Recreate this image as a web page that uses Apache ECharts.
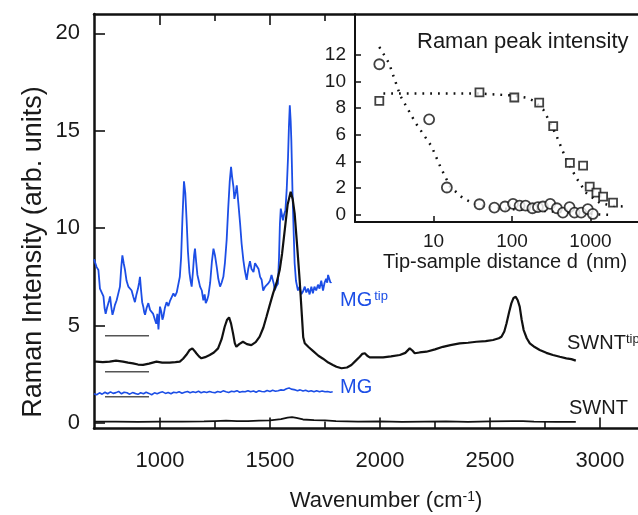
<!DOCTYPE html>
<html><head><meta charset="utf-8">
<script src="https://cdn.jsdelivr.net/npm/echarts@6/dist/echarts.min.js"></script>
<style>html,body{margin:0;padding:0;background:#fff}#c{width:638px;height:515px}</style>
</head><body><div id="c"></div>
<script>
// ---- main spectra: [wavenumber, intensity] ----
const mgTip = [[700,8.4],[705,8.45],[712,8.0],[720,7.85],[727,6.9],[735,6.8],[743,6.5],[748,5.9],[753,5.6],[759,5.9],[765,5.8],[769,6.3],[773,6.5],[778,6.0],[784,5.55],[790,5.8],[795,6.05],[803,6.3],[811,6.2],[818,7.0],[824,8.0],[829,8.6],[835,8.2],[841,7.85],[848,7.3],[856,7.0],[863,7.1],[871,6.8],[878,6.5],[886,6.2],[893,6.6],[900,6.9],[905,7.2],[909,7.5],[914,6.8],[919,6.2],[924,5.97],[928,5.7],[932,5.55],[939,5.9],[947,6.15],[955,5.8],[962,5.9],[969,5.6],[977,5.3],[983,5.1],[988,5.6],[993,4.8],[997,5.5],[1000,5.97],[1006,5.7],[1011,5.3],[1015,5.45],[1022,5.9],[1030,6.2],[1038,6.0],[1045,6.25],[1053,6.15],[1061,6.65],[1068,6.5],[1076,6.7],[1084,6.8],[1090,7.5],[1096,8.5],[1102,10.5],[1109,12.4],[1115,11.8],[1121,10.4],[1127,8.8],[1134,7.7],[1139,7.3],[1144,7.0],[1150,7.8],[1155,8.6],[1159,8.95],[1165,8.2],[1170,7.6],[1175,7.35],[1182,7.0],[1190,6.8],[1197,6.3],[1203,6.6],[1208,6.15],[1214,6.3],[1220,6.55],[1228,7.2],[1236,8.3],[1243,8.95],[1250,8.6],[1258,8.0],[1265,7.4],[1273,7.0],[1280,7.2],[1288,7.5],[1295,8.2],[1303,9.4],[1310,11.0],[1317,12.4],[1323,13.15],[1328,12.6],[1334,12.1],[1338,11.5],[1341,11.45],[1345,11.9],[1349,12.2],[1356,11.3],[1364,10.25],[1371,9.2],[1379,8.35],[1386,7.8],[1394,7.35],[1401,7.9],[1409,8.3],[1416,7.9],[1425,7.75],[1432,8.2],[1440,8.3],[1448,7.9],[1455,7.5],[1462,7.35],[1469,6.8],[1478,7.0],[1485,6.9],[1491,7.15],[1500,7.3],[1507,7.6],[1514,7.7],[1518,7.1],[1521,6.8],[1528,7.0],[1536,7.15],[1541,8.5],[1545,10.2],[1549,11.0],[1554,10.7],[1559,10.4],[1564,10.7],[1570,10.9],[1576,12.0],[1582,13.65],[1586,15.2],[1590,16.3],[1594,15.5],[1597,14.5],[1602,12.0],[1607,10.0],[1612,8.2],[1618,7.3],[1627,6.8],[1635,7.0],[1642,6.6],[1650,6.75],[1658,7.0],[1665,6.7],[1673,6.9],[1680,6.6],[1688,7.0],[1695,6.65],[1702,7.0],[1710,6.8],[1718,7.1],[1725,6.9],[1733,7.3],[1741,6.8],[1748,7.2],[1755,7.4],[1760,7.2],[1764,7.6],[1770,7.5],[1775,7.2],[1779,7.25]];
const swntTip = [[700,3.15],[711,3.15],[740,3.12],[771,3.15],[800,3.2],[832,3.15],[855,3.1],[877,3.06],[900,3.0],[923,2.98],[950,3.05],[984,3.15],[1010,3.1],[1044,3.1],[1070,3.12],[1090,3.15],[1105,3.3],[1120,3.5],[1135,3.75],[1147,3.83],[1157,3.7],[1165,3.58],[1177,3.42],[1188,3.32],[1205,3.38],[1226,3.49],[1245,3.62],[1264,3.83],[1280,4.3],[1294,4.94],[1305,5.3],[1314,5.42],[1323,5.1],[1332,4.6],[1340,4.1],[1347,3.91],[1360,4.05],[1377,4.17],[1395,4.05],[1415,4.0],[1435,4.15],[1453,4.43],[1470,4.9],[1484,5.45],[1500,6.1],[1514,6.65],[1530,7.2],[1544,7.85],[1555,8.7],[1567,9.9],[1580,11.2],[1594,11.87],[1603,11.5],[1612,10.76],[1624,9.0],[1635,7.3],[1645,5.5],[1651,4.4],[1658,4.09],[1675,3.9],[1695,3.7],[1720,3.45],[1741,3.3],[1765,3.1],[1786,2.98],[1802,2.89],[1825,2.81],[1850,2.85],[1870,2.98],[1890,3.2],[1908,3.4],[1920,3.55],[1931,3.58],[1942,3.45],[1953,3.37],[1980,3.37],[2014,3.37],[2050,3.42],[2090,3.49],[2115,3.6],[2135,3.83],[2147,3.72],[2158,3.58],[2180,3.62],[2211,3.66],[2250,3.78],[2286,3.91],[2320,4.0],[2362,4.09],[2400,4.12],[2438,4.17],[2480,4.2],[2514,4.26],[2540,4.35],[2552,4.43],[2565,4.7],[2575,5.11],[2587,5.7],[2597,6.14],[2607,6.42],[2617,6.48],[2626,6.3],[2635,5.97],[2644,5.3],[2653,4.77],[2667,4.35],[2681,4.09],[2703,3.9],[2726,3.75],[2756,3.6],[2786,3.49],[2817,3.4],[2847,3.32],[2870,3.28],[2890,3.2]];
const mg = [[700,1.5],[712,1.45],[725,1.55],[737,1.48],[750,1.58],[762,1.5],[775,1.6],[787,1.52],[800,1.56],[812,1.62],[825,1.5],[837,1.58],[850,1.55],[862,1.48],[875,1.56],[887,1.52],[900,1.47],[912,1.55],[925,1.5],[937,1.58],[950,1.52],[962,1.45],[975,1.55],[987,1.5],[1000,1.56],[1012,1.6],[1025,1.52],[1037,1.57],[1050,1.5],[1062,1.58],[1075,1.55],[1087,1.6],[1100,1.53],[1112,1.58],[1125,1.62],[1137,1.55],[1150,1.6],[1162,1.57],[1175,1.63],[1187,1.55],[1200,1.6],[1212,1.56],[1225,1.62],[1237,1.58],[1250,1.55],[1262,1.62],[1275,1.58],[1287,1.65],[1300,1.6],[1312,1.57],[1325,1.63],[1337,1.6],[1350,1.66],[1362,1.58],[1375,1.62],[1387,1.6],[1400,1.66],[1412,1.6],[1425,1.64],[1437,1.58],[1450,1.66],[1462,1.62],[1475,1.6],[1487,1.67],[1500,1.62],[1512,1.68],[1525,1.63],[1537,1.66],[1550,1.7],[1562,1.68],[1575,1.76],[1587,1.8],[1597,1.74],[1606,1.78],[1615,1.7],[1625,1.66],[1637,1.7],[1650,1.64],[1662,1.68],[1675,1.62],[1687,1.66],[1700,1.6],[1712,1.65],[1725,1.6],[1737,1.64],[1750,1.6],[1762,1.62],[1775,1.58],[1785,1.6]];
const swnt = [[700,0.07],[800,0.07],[900,0.06],[1000,0.07],[1100,0.07],[1200,0.08],[1250,0.1],[1300,0.12],[1350,0.1],[1400,0.1],[1450,0.12],[1500,0.14],[1550,0.2],[1580,0.28],[1600,0.3],[1620,0.26],[1650,0.18],[1700,0.15],[1750,0.13],[1800,0.1],[1900,0.07],[2000,0.08],[2100,0.06],[2200,0.07],[2300,0.08],[2400,0.06],[2500,0.08],[2600,0.1],[2650,0.1],[2700,0.07],[2800,0.06],[2890,0.06]];
// zero-level markers of the offset spectra
const zeroLevels = [4.48, 2.63, 1.35];
const zeroSpan = [750, 950];
// axis ticks
const xMajor = [1000, 1500, 2000, 2500, 3000];
const xMinor = [1250, 1750, 2250, 2750];
const xTopMajor = [1000, 1500];
const xTopMinor = [1250, 1750];
const yTicks = [0, 5, 10, 15, 20];
// ---- inset: Raman peak intensity vs tip-sample distance ----
const circD = [2.04, 8.8, 14.8, 38.5, 59.6, 81.6, 103, 125, 149, 182, 214, 248, 307, 373, 445, 541, 626, 761, 924, 1071];
const circI = [11.3, 7.16, 2.03, 0.77, 0.52, 0.6, 0.8, 0.67, 0.67, 0.47, 0.55, 0.6, 0.8, 0.47, 0.14, 0.55, 0.14, 0.14, 0.4, 0.04];
const sqD = [2.04, 38.5, 107, 222, 335, 546, 805, 977, 1190, 1447, 1936];
const sqI = [8.55, 9.18, 8.8, 8.42, 6.65, 3.88, 3.67, 2.1, 1.65, 1.35, 0.9];
const circFitD = [2.04, 2.7, 3.8, 5.9, 9.5, 12.2, 16.3, 24, 35, 60, 100, 200, 400, 800, 1100, 1800];
const circFitI = [12.6, 11.4, 8.9, 6.9, 5.1, 3.6, 2.1, 1.2, 0.75, 0.5, 0.4, 0.3, 0.2, 0.08, 0.02, -0.02];
const sqFitD = [2.3, 10, 40, 100, 150, 190, 250, 300, 370, 470, 660, 890, 1330, 2000, 2750];
const sqFitI = [9.1, 9.1, 9.1, 8.95, 8.8, 8.55, 7.9, 7.0, 5.9, 4.4, 2.75, 1.6, 0.85, 0.65, 0.6];
const insetXTicks = [10, 100, 1000];
const insetYTicks = [0, 2, 4, 6, 8, 10, 12];

const FONT = "'Liberation Sans', Arial, Helvetica, sans-serif";
const BLUE = '#1c4ee6';
const INK = '#111';
const TXT = '#1a1a1a';
const zip = (a, b) => a.map((v, i) => [v, b[i]]);
const plain = v => String(v);

const chart = echarts.init(document.getElementById('c'), null, {renderer: 'canvas'});
const lineStyleAxis = {color: INK, width: 2.5};
const series = [
  {type: 'line', data: mgTip, xAxisIndex: 0, yAxisIndex: 0, showSymbol: false, lineStyle: {color: BLUE, width: 1.8}, z: 3},
  {type: 'line', data: mg, xAxisIndex: 0, yAxisIndex: 0, showSymbol: false, lineStyle: {color: BLUE, width: 1.6}, z: 3},
  {type: 'line', data: swntTip, xAxisIndex: 0, yAxisIndex: 0, showSymbol: false, lineStyle: {color: INK, width: 2.2}, z: 4},
  {type: 'line', data: swnt, xAxisIndex: 0, yAxisIndex: 0, showSymbol: false, lineStyle: {color: INK, width: 1.8}, z: 4}
];
zeroLevels.forEach(v => series.push({type: 'line', data: zeroSpan.map(x => [x, v]), xAxisIndex: 0, yAxisIndex: 0, showSymbol: false, lineStyle: {color: '#555', width: 1.5}, z: 2}));
series.push(
  {type: 'line', data: zip(circFitD, circFitI), xAxisIndex: 4, yAxisIndex: 1, showSymbol: false, lineStyle: {color: INK, width: 2.5, type: [1.8, 6]}, z: 3},
  {type: 'line', data: zip(sqFitD, sqFitI), xAxisIndex: 4, yAxisIndex: 1, showSymbol: false, lineStyle: {color: INK, width: 2.5, type: [1.8, 6]}, z: 3},
  {type: 'scatter', data: zip(circD, circI), xAxisIndex: 4, yAxisIndex: 1, symbol: 'circle', symbolSize: 10, itemStyle: {color: '#fff', borderColor: INK, borderWidth: 1.8}, z: 5},
  {type: 'scatter', data: zip(sqD, sqI), xAxisIndex: 4, yAxisIndex: 1, symbol: 'rect', symbolSize: 8, itemStyle: {color: '#fff', borderColor: INK, borderWidth: 1.8}, z: 5}
);

const hideAll = {splitLine: {show: false}};
chart.setOption({
  animation: false,
  backgroundColor: '#fff',
  textStyle: {fontFamily: FONT},
  grid: [
    {left: 94, right: -6, top: 14, bottom: 86.5, outerBoundsMode: 'none'},
    {left: 355, right: -31, top: 14, bottom: 293, outerBoundsMode: 'none'}
  ],
  xAxis: [
    {gridIndex: 0, type: 'value', min: 700, max: 3200, position: 'bottom',
      axisLine: {show: true, onZero: false, lineStyle: lineStyleAxis},
      axisTick: {show: true, inside: true, length: 11, customValues: xMajor, lineStyle: {color: INK, width: 1.6}},
      axisLabel: {show: true, customValues: xMajor, formatter: plain, fontSize: 22, margin: 21, color: TXT, fontFamily: FONT}, ...hideAll},
    {gridIndex: 0, type: 'value', min: 700, max: 3200, position: 'bottom',
      axisLine: {show: false, onZero: false},
      axisTick: {show: true, inside: true, length: 7, customValues: xMinor, lineStyle: {color: INK, width: 1.6}},
      axisLabel: {show: false}, ...hideAll},
    {gridIndex: 0, type: 'value', min: 700, max: 3200, position: 'top',
      axisLine: {show: true, onZero: false, lineStyle: lineStyleAxis},
      axisTick: {show: true, inside: true, length: 11, customValues: xTopMajor, lineStyle: {color: INK, width: 1.6}},
      axisLabel: {show: false}, ...hideAll},
    {gridIndex: 0, type: 'value', min: 700, max: 3200, position: 'top',
      axisLine: {show: false, onZero: false},
      axisTick: {show: true, inside: true, length: 7, customValues: xTopMinor, lineStyle: {color: INK, width: 1.6}},
      axisLabel: {show: false}, ...hideAll},
    {gridIndex: 1, type: 'log', logBase: 10, min: 1, max: 10000, position: 'bottom',
      axisLine: {show: true, onZero: false, lineStyle: {color: INK, width: 2}},
      axisTick: {show: true, inside: true, length: 6, customValues: insetXTicks, lineStyle: {color: INK, width: 1.5}},
      axisLabel: {show: true, customValues: insetXTicks, formatter: plain, fontSize: 19, margin: 10, color: TXT, fontFamily: FONT}, ...hideAll}
  ],
  yAxis: [
    {gridIndex: 0, type: 'value', min: -0.282, max: 20.99, position: 'left',
      axisLine: {show: true, onZero: false, lineStyle: lineStyleAxis},
      axisTick: {show: true, inside: true, length: 11, customValues: yTicks, lineStyle: {color: INK, width: 1.6}},
      axisLabel: {show: true, customValues: yTicks, formatter: plain, fontSize: 22, margin: 14, color: TXT, fontFamily: FONT}, ...hideAll},
    {gridIndex: 1, type: 'value', min: -0.564, max: 15.08, position: 'left',
      axisLine: {show: true, onZero: false, lineStyle: {color: INK, width: 2}},
      axisTick: {show: true, inside: true, length: 6, customValues: insetYTicks, lineStyle: {color: INK, width: 1.5}},
      axisLabel: {show: true, customValues: insetYTicks, formatter: plain, fontSize: 19, margin: 9, color: TXT, fontFamily: FONT}, ...hideAll}
  ],
  series: series,
  graphic: [
    {type: 'text', left: 340, top: 290, z: 10, style: {text: 'MG{s|tip}', fill: BLUE, font: '20px ' + FONT,
      rich: {s: {fontSize: 13, verticalAlign: 'top', fill: BLUE, fontFamily: FONT, padding: [0, 0, 0, 2]}}}},
    {type: 'text', left: 340, top: 377, z: 10, style: {text: 'MG', fill: BLUE, font: '20px ' + FONT}},
    {type: 'text', left: 567, top: 333, z: 10, style: {text: 'SWNT{s|tip}', fill: TXT, font: '20px ' + FONT,
      rich: {s: {fontSize: 13, verticalAlign: 'top', fill: TXT, fontFamily: FONT}}}},
    {type: 'text', left: 569, top: 398, z: 10, style: {text: 'SWNT', fill: TXT, font: '20px ' + FONT}},
    {type: 'text', left: 417, top: 31, z: 10, style: {text: 'Raman peak intensity', fill: TXT, font: '22px ' + FONT}},
    {type: 'text', left: 383, top: 252, z: 10, style: {text: 'Tip-sample distance d', fill: TXT, font: '20px ' + FONT}},
    {type: 'text', left: 586, top: 252, z: 10, style: {text: '(nm)', fill: TXT, font: '20px ' + FONT}},
    {type: 'text', x: 386, y: 501, z: 10, style: {text: 'Wavenumber (cm{s|-1})', fill: TXT, font: '22px ' + FONT, align: 'center', verticalAlign: 'middle',
      rich: {s: {fontSize: 14, verticalAlign: 'top', fill: TXT, fontFamily: FONT}}}},
    {type: 'text', x: 34, y: 252, rotation: Math.PI / 2, z: 10, style: {text: 'Raman Intensity (arb. units)', fill: TXT, font: '27px ' + FONT, align: 'center', verticalAlign: 'middle'}}
  ]
});
</script></body></html>
